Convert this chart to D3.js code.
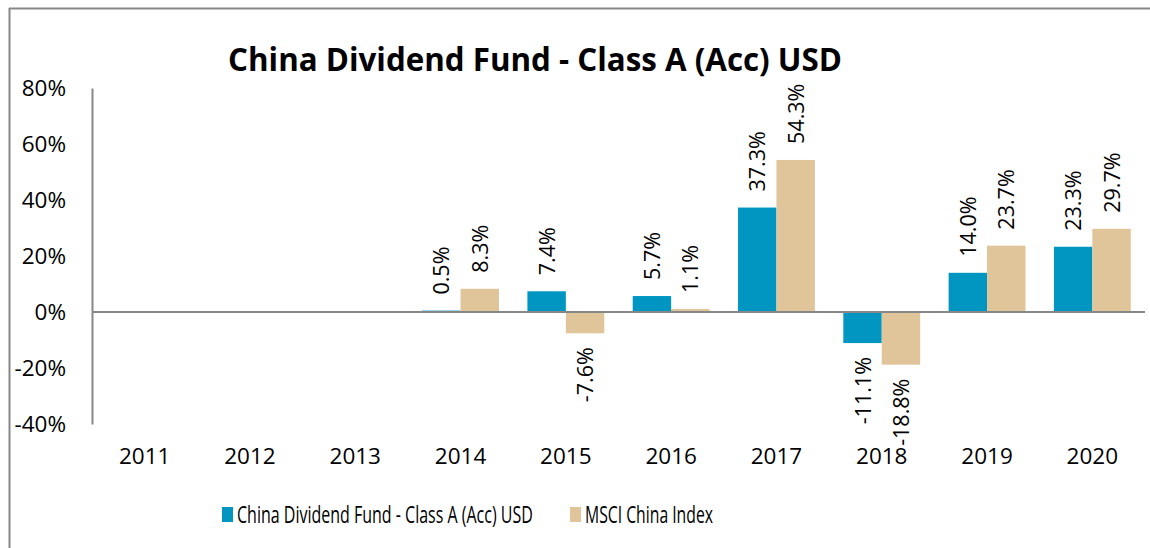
<!DOCTYPE html>
<html>
<head>
<meta charset="utf-8">
<script src="https://cdn.jsdelivr.net/npm/d3@7"></script>
<style>
  html, body { margin: 0; padding: 0; background: #fff; }
  svg { display: block; }
  text { font-family: "Open Sans", Lato, sans-serif; fill: #000; }
</style>
</head>
<body>
<svg id="chart" width="1150" height="548"></svg>
<script>
const years = ["2011", "2012", "2013", "2014", "2015", "2016", "2017", "2018", "2019", "2020"];
const fundValues = [null, null, null, 0.5, 7.4, 5.7, 37.3, -11.1, 14.0, 23.3];
const indexValues = [null, null, null, 8.3, -7.6, 1.1, 54.3, -18.8, 23.7, 29.7];
const seriesNames = ["China Dividend Fund - Class A (Acc) USD", "MSCI China Index"];
const yTicks = [80, 60, 40, 20, 0, -20, -40];
const titleText = "China Dividend Fund - Class A (Acc) USD";

const colors = ["#0096C1", "#E0C49A"];
const W = 1150, H = 548;
const svg = d3.select("#chart");

// frame lines (top and left edges)
svg.append("line").attr("x1", 9).attr("x2", W).attr("y1", 8.5).attr("y2", 8.5)
  .attr("stroke", "#878787").attr("stroke-width", 2);
svg.append("line").attr("x1", 9.5).attr("x2", 9.5).attr("y1", 8).attr("y2", H)
  .attr("stroke", "#878787").attr("stroke-width", 2);

const x = d3.scaleBand().domain(years).range([92, 1145]).paddingInner(0.27).paddingOuter(0.135);
const sub = d3.scaleBand().domain([0, 1]).range([0, x.bandwidth()]);
const y = d3.scaleLinear().domain([-40, 80]).range([424, 88]);

// fits a text horizontally into a given width by scaling it along x
function fitWidth(g, textSel, width) {
  const natural = textSel.node().getComputedTextLength();
  const k = width / natural;
  const t = g.attr("data-tx");
  g.attr("transform", `translate(${t}) scale(${k},1)`);
}

// title
const titleG = svg.append("g").attr("data-tx", "535,71");
const titleT = titleG.append("text").attr("text-anchor", "middle")
  .attr("font-size", 32).attr("font-weight", "bold").text(titleText);
fitWidth(titleG, titleT, 614);

// y axis
const yAxis = svg.append("g").attr("transform", "translate(92,0)")
  .call(d3.axisLeft(y).tickValues(yTicks).tickSize(0).tickPadding(26).tickFormat(d => d + "%"));
yAxis.select(".domain").attr("stroke", "#878787").attr("stroke-width", 2);
yAxis.selectAll("text").attr("font-size", 22.5).style("font-family", null);

// x axis labels
const xAxis = svg.append("g").attr("transform", "translate(0,424)")
  .call(d3.axisBottom(x).tickSize(0).tickPadding(24));
xAxis.select(".domain").remove();
xAxis.selectAll("text").attr("font-size", 22.5).style("font-family", null);

// bars and value labels
const series = [fundValues, indexValues];
series.forEach((vals, si) => {
  const data = years.map((yr, i) => ({ yr, v: vals[i] })).filter(d => d.v !== null);
  const g = svg.append("g");
  g.selectAll("rect").data(data).join("rect")
    .attr("x", d => x(d.yr) + sub(si))
    .attr("width", sub.bandwidth())
    .attr("y", d => y(Math.max(0, d.v)))
    .attr("height", d => Math.abs(y(d.v) - y(0)))
    .attr("fill", colors[si]);
  g.selectAll("text").data(data).join("text")
    .attr("transform", d => {
      const cx = x(d.yr) + sub(si) + sub.bandwidth() / 2;
      const yy = d.v >= 0 ? y(d.v) - 16 : y(d.v) + 14;
      return `translate(${cx + 8},${yy}) rotate(-90)`;
    })
    .attr("text-anchor", d => d.v >= 0 ? "start" : "end")
    .attr("font-size", 21.5)
    .text(d => d.v.toFixed(1) + "%");
});

// zero line
svg.append("line").attr("x1", 92).attr("x2", 1145).attr("y1", y(0)).attr("y2", y(0))
  .attr("stroke", "#878787").attr("stroke-width", 2);

// legend
const legendPos = [222, 570];
const legendWidths = [296, 128];
const lg = svg.append("g");
seriesNames.forEach((name, i) => {
  lg.append("rect").attr("x", legendPos[i]).attr("y", 507).attr("width", 11).attr("height", 15).attr("fill", colors[i]);
  const tg = lg.append("g").attr("data-tx", `${legendPos[i] + 15},523`);
  const tt = tg.append("text").attr("font-size", 23.5).text(name);
  fitWidth(tg, tt, legendWidths[i]);
});
</script>
</body>
</html>
